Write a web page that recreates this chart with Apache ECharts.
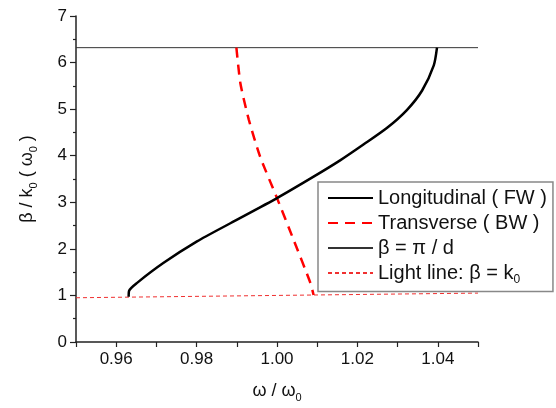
<!DOCTYPE html>
<html>
<head>
<meta charset="utf-8">
<script src="https://cdn.jsdelivr.net/npm/echarts@6/dist/echarts.min.js"></script>
<style>
  html, body { margin: 0; padding: 0; background: #fff; }
  #chart { width: 556px; height: 408px; }
</style>
</head>
<body>
<div id="chart"></div>
<script>
// omega / omega0 vs beta / k0
const longitudinalFW = [
  [0.9631, 0.97], [0.9632, 1.10], [0.9652, 1.27], [0.9718, 1.70],
  [0.9801, 2.16], [0.9884, 2.55], [1.0000, 3.09], [1.0091, 3.55],
  [1.0157, 3.90], [1.0215, 4.24], [1.0274, 4.60], [1.0323, 4.98],
  [1.0361, 5.40], [1.0390, 5.94], [1.0398, 6.32]
]
const transverseBW = [
  [0.9899, 6.32], [0.9909, 5.55], [0.9930, 4.77], [0.9958, 3.98],
  [1.0000, 3.09], [1.0041, 2.20], [1.0083, 1.27], [1.0091, 1.01]
]
const piOverD = [[0.95, 6.32], [1.05, 6.32]]
const lightLine = [[0.95, 0.95], [1.05, 1.05]]

const xLabels = ['0.96', '0.98', '1.00', '1.02', '1.04']
const seriesNames = ['Longitudinal ( FW )', 'Transverse ( BW )', 'β = π / d', 'Light line: β = k0']

const font = 'Liberation Sans, Arial, sans-serif'
const axisColor = '#222'

const chart = echarts.init(document.getElementById('chart'))

chart.setOption({
  animation: false,
  backgroundColor: '#fff',
  grid: {
    left: 76,
    top: 16,
    width: 402,
    height: 327
  },
  xAxis: {
    type: 'value',
    min: 0.95,
    max: 1.05,
    interval: 0.01,
    name: '{n|ω / ω}{s|0}',
    nameLocation: 'middle',
    nameGap: 38,
    nameTextStyle: {
      rich: {
        n: { fontFamily: font, fontSize: 18, color: '#111' },
        s: { fontFamily: font, fontSize: 11, color: '#111', padding: [12, 0, 0, 0] }
      }
    },
    axisLine: { onZero: false, lineStyle: { color: axisColor, width: 1.5 } },
    axisTick: { inside: false, length: 5, lineStyle: { color: axisColor, width: 1.2 } },
    axisLabel: {
      margin: 9,
      fontFamily: font,
      fontSize: 17,
      color: '#111',
      formatter: v => {
        const s = v.toFixed(2)
        return xLabels.includes(s) ? s : ''
      }
    },
    splitLine: { show: false }
  },
  yAxis: {
    type: 'value',
    min: 0,
    max: 7,
    interval: 1,
    name: '{n|β / k}{s|0}{n| ( ω}{s|0}{n| )}',
    nameLocation: 'middle',
    nameGap: 37,
    nameTextStyle: {
      rich: {
        n: { fontFamily: font, fontSize: 18, color: '#111' },
        s: { fontFamily: font, fontSize: 11, color: '#111', padding: [12, 0, 0, 0] }
      }
    },
    axisLine: { onZero: false, lineStyle: { color: axisColor, width: 1.5 } },
    axisTick: { inside: false, length: 6, lineStyle: { color: axisColor, width: 1.2 } },
    minorTick: { show: true, splitNumber: 2, length: 3, lineStyle: { color: axisColor, width: 1.2 } },
    axisLabel: {
      margin: 9,
      fontFamily: font,
      fontSize: 17,
      color: '#111'
    },
    splitLine: { show: false }
  },
  legend: {
    orient: 'vertical',
    left: 318,
    top: 182,
    padding: [6, 6, 6, 9],
    itemGap: 5,
    itemWidth: 45,
    itemHeight: 16,
    backgroundColor: '#fff',
    borderColor: '#888',
    borderWidth: 1.5,
    borderRadius: 0,
    itemStyle: { color: 'transparent', borderWidth: 0, opacity: 0 },
    data: seriesNames,
    formatter: name => name === seriesNames[3]
      ? '{n|Light line: β = k}{s|0}'
      : '{n|' + name + '}',
    textStyle: {
      rich: {
        n: { fontFamily: font, fontSize: 20, color: '#111', lineHeight: 21 },
        s: { fontFamily: font, fontSize: 12, color: '#111', padding: [13, 0, 0, 0] }
      }
    }
  },
  series: [
    {
      name: seriesNames[0],
      type: 'line',
      data: longitudinalFW,
      symbol: 'none',
      smooth: 0.25,
      lineStyle: { color: '#000', width: 2.5 },
      itemStyle: { color: '#000' },
      z: 4
    },
    {
      name: seriesNames[1],
      type: 'line',
      data: transverseBW,
      symbol: 'none',
      smooth: 0.2,
      lineStyle: { color: '#ff0000', width: 2.5, type: [10, 7] },
      itemStyle: { color: '#ff0000' },
      z: 3
    },
    {
      name: seriesNames[2],
      type: 'line',
      data: piOverD,
      symbol: 'none',
      lineStyle: { color: '#333', width: 1 },
      itemStyle: { color: '#333' },
      z: 2
    },
    {
      name: seriesNames[3],
      type: 'line',
      data: lightLine,
      symbol: 'none',
      lineStyle: { color: '#f03030', width: 1, type: [4, 3] },
      itemStyle: { color: '#f03030' },
      z: 2
    }
  ]
})
</script>
</body>
</html>
